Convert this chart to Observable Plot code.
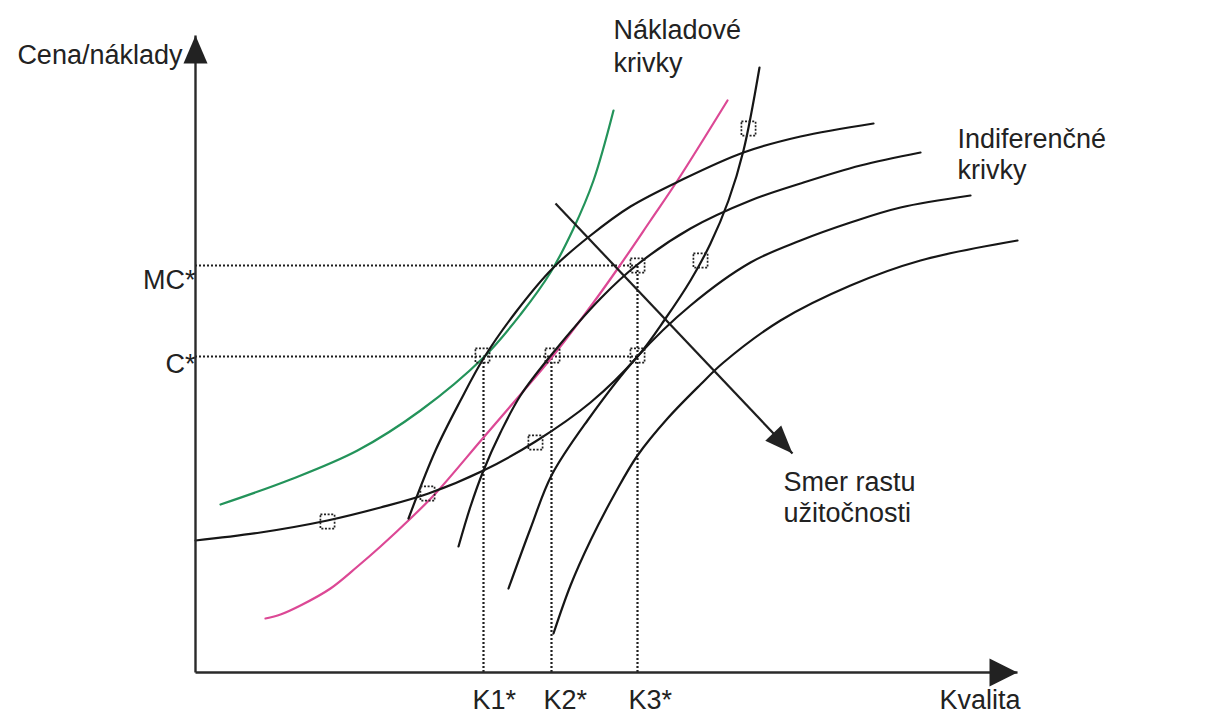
<!DOCTYPE html>
<html>
<head>
<meta charset="utf-8">
<script src="https://cdn.jsdelivr.net/npm/d3@7"></script>
<script src="https://cdn.jsdelivr.net/npm/@observablehq/plot@0.6"></script>
<style>
  html, body { margin: 0; padding: 0; background: #ffffff; }
  #chart svg { display: block; }
</style>
</head>
<body>
<div id="chart"></div>
<script>
// ---- Data (quality on x, price/cost on y; units measured from the origin) ----
const origin = [0, 0];
const axisEnds = { x: 822, y: 637 };

// Cost curves (Nákladové krivky)
const greenCost = [[25,168],[95,193],[162,222],[225,262],[288,315],[325,358],[355,400],[378,444],[398,492],[418,562]];
const pinkCost = [[70,54],[85,58],[105,67],[135,84],[162,106],[185,126],[215,154],[240,179],[288,235],[325,278],[357,316],[398,370],[423,405],[455,452],[482,492],[532,572]];
const blackCost = [[0,132],[65,140],[132,152],[185,165],[233,179],[288,202],[340,231],[395,270],[442,316],[470,354],[495,392],[515,429],[533,472],[548,522],[564,605]];

// Indifference curves (Indiferenčné krivky)
const ic1 = [[213,154],[240,222],[265,272],[288,314],[320,360],[357,404],[395,437],[435,466],[485,492],[548,520],[605,536],[678,549]];
const ic2 = [[263,126],[275,166],[288,202],[305,240],[325,277],[357,319],[405,374],[442,408],[495,444],[555,472],[605,489],[665,507],[725,520]];
const ic3 = [[313,84],[335,144],[356,197],[392,252],[442,316],[495,367],[555,410],[605,432],[655,450],[705,465],[775,477]];
const ic4 = [[358,39],[375,87],[395,132],[420,180],[442,217],[472,254],[505,288],[528,310],[585,352],[655,387],[725,412],[822,432]];

// Optimum levels
const costLabels = ["MC*", "C*"];
const costLevels = [407, 316];
const costLabelPos = [384, 300];
const qualityLabels = ["K1*", "K2*", "K3*"];
const qualityLevels = [288, 356, 442];
const qualityTops = [316, 316, 407];
const qualityLabelX = [277, 348, 433];

// Marked points (dotted squares)
const markedPoints = [[132,151],[232,179],[340,230],[287,317],[357,317],[442,317],[442,407],[505,412],[553,544]];

// Direction of increasing utility arrow
const utilityArrow = { from: [360, 469], to: [597, 219] };

// Texts
const textsStart = [
  { text: "Nákladové", x: 418, y: 634 },
  { text: "krivky", x: 418, y: 601 },
  { text: "Indiferenčné", x: 762, y: 525 },
  { text: "krivky", x: 762, y: 494 },
  { text: "Smer rastu", x: 588, y: 182 },
  { text: "užitočnosti", x: 588, y: 151 },
  { text: "Kvalita", x: 744, y: -36 }
];
const textsEnd = [
  { text: "Cena/náklady", x: -13, y: 609 }
];

// ---- Helpers ----
const toObj = (pts) => pts.map(([x, y]) => ({ x, y }));
function headSymbol(angleDeg, len, half) {
  const a = angleDeg * Math.PI / 180, c = Math.cos(a), s = Math.sin(a);
  const rot = (x, y) => [x * c - y * s, x * s + y * c];
  return {
    draw(ctx) {
      const p1 = rot(-half, len), p2 = rot(half, len);
      ctx.moveTo(0, 0);
      ctx.lineTo(p1[0], p1[1]);
      ctx.lineTo(p2[0], p2[1]);
      ctx.closePath();
    }
  };
}

const FONT = "'Liberation Sans', Arial, 'DejaVu Sans', sans-serif";
const FS = 27;
const INK = "#222";

const hGuides = costLevels.map((y) => ({ y, x1: origin[0], x2: qualityLevels[2] }));
const vGuides = qualityLevels.map((x, i) => ({ x, y1: origin[1], y2: qualityTops[i] }));
const costText = costLabels.map((t, i) => ({ text: t, x: origin[0], y: costLabelPos[i] }));
const qualText = qualityLabels.map((t, i) => ({ text: t, x: qualityLabelX[i], y: -36 }));

const axes = [
  { x1: origin[0], y1: origin[1], x2: origin[0], y2: axisEnds.y },
  { x1: origin[0], y1: origin[1], x2: axisEnds.x, y2: origin[1] }
];
const ua = utilityArrow;
const uaAngle = Math.atan2(ua.to[0] - ua.from[0], (ua.to[1] - ua.from[1])) * 180 / Math.PI;

const curveStyle = { x: "x", y: "y", curve: "catmull-rom", strokeWidth: 2.2, strokeLinecap: "round" };
const guideStyle = { stroke: "#1e1e1e", strokeWidth: 2.2, strokeDasharray: "2,2" };

const plot = Plot.plot({
  width: 1211,
  height: 713,
  margin: 0,
  x: { domain: [-195, 1016], axis: null },
  y: { domain: [-41, 672], axis: null },
  style: { background: "#ffffff", fontFamily: FONT },
  marks: [
    // dotted guides
    Plot.ruleY(hGuides, { y: "y", x1: "x1", x2: "x2", ...guideStyle }),
    Plot.ruleX(vGuides, { x: "x", y1: "y1", y2: "y2", ...guideStyle }),
    // curves
    Plot.line(toObj(greenCost), { ...curveStyle, stroke: "#23935a" }),
    Plot.line(toObj(pinkCost), { ...curveStyle, stroke: "#dc4895" }),
    Plot.line(toObj(blackCost), { ...curveStyle, stroke: "#161616" }),
    Plot.line(toObj(ic1), { ...curveStyle, stroke: "#161616" }),
    Plot.line(toObj(ic2), { ...curveStyle, stroke: "#161616" }),
    Plot.line(toObj(ic3), { ...curveStyle, stroke: "#161616" }),
    Plot.line(toObj(ic4), { ...curveStyle, stroke: "#161616" }),
    // marked points
    Plot.dot(toObj(markedPoints), { x: "x", y: "y", symbol: "square", r: 8, fill: "none", stroke: "#222", strokeWidth: 1.7, strokeDasharray: "2,1.6" }),
    // axes
    Plot.link(axes, { x1: "x1", y1: "y1", x2: "x2", y2: "y2", stroke: "#2a2a2a", strokeWidth: 2.4 }),
    Plot.dot([{ x: origin[0], y: axisEnds.y }], { x: "x", y: "y", symbol: headSymbol(0, 28, 12), fill: INK, stroke: "none" }),
    Plot.dot([{ x: axisEnds.x, y: origin[1] }], { x: "x", y: "y", symbol: headSymbol(90, 28, 14), fill: INK, stroke: "none" }),
    // utility arrow
    Plot.link([{ x1: ua.from[0], y1: ua.from[1], x2: ua.to[0], y2: ua.to[1] }], { x1: "x1", y1: "y1", x2: "x2", y2: "y2", stroke: "#1e1e1e", strokeWidth: 2.2 }),
    Plot.dot([{ x: ua.to[0], y: ua.to[1] }], { x: "x", y: "y", symbol: headSymbol(uaAngle, 28, 11), fill: INK, stroke: "none" }),
    // texts
    Plot.text(costText, { x: "x", y: "y", text: "text", textAnchor: "end", lineAnchor: "middle", dy: -FS * 0.32, fontSize: FS, fill: INK }),
    Plot.text(qualText, { x: "x", y: "y", text: "text", textAnchor: "start", lineAnchor: "middle", dy: -FS * 0.32, fontSize: FS, fill: INK }),
    Plot.text(textsStart, { x: "x", y: "y", text: "text", textAnchor: "start", lineAnchor: "middle", dy: -FS * 0.32, fontSize: FS, fill: INK }),
    Plot.text(textsEnd, { x: "x", y: "y", text: "text", textAnchor: "end", lineAnchor: "middle", dy: -FS * 0.32, fontSize: FS, fill: INK })
  ]
});
document.getElementById("chart").appendChild(plot);
</script>
</body>
</html>
